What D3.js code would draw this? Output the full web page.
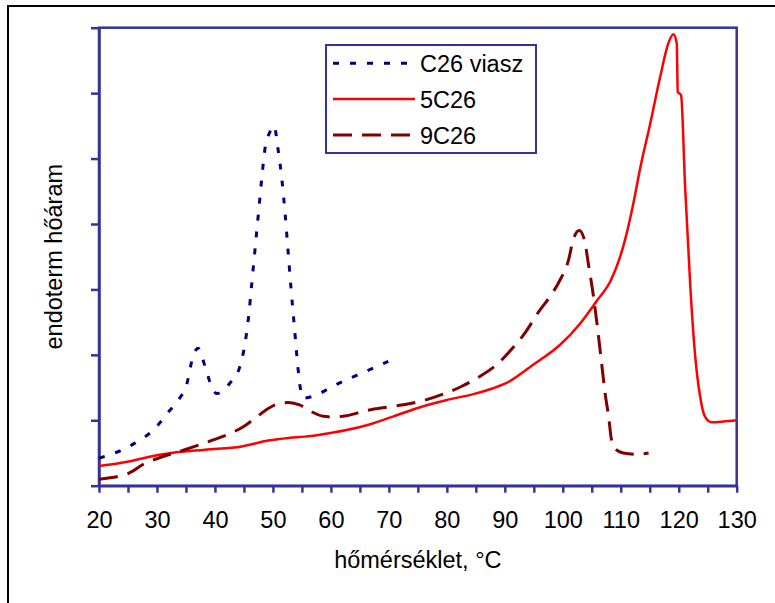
<!DOCTYPE html>
<html>
<head>
<meta charset="utf-8">
<script src="https://cdn.jsdelivr.net/npm/d3@7"></script>
<style>
  body { margin: 0; background: #fff; }
  text { font-family: "Liberation Sans", Arial, sans-serif; fill: #000; }
</style>
</head>
<body>
<svg id="chart" width="775" height="603"></svg>
<script>
// ---- Data (y in arbitrary units) ----
const xTicks = [20, 30, 40, 50, 60, 70, 80, 90, 100, 110, 120, 130];
const seriesNames = ["C26 viasz", "5C26", "9C26"];

const c26T = [20, 25.6, 29.7, 32.0, 33.7, 35.1, 36.3, 37.1, 38.3, 39.2, 40.3, 42.6, 44.3, 45.2, 45.8, 46.3, 46.9, 47.5, 48.1, 48.6, 49.5, 50.2, 50.9, 51.5, 52.1, 52.6, 53.1, 53.7, 54.3, 54.7, 55.2, 57.6, 60.1, 62.7, 65.3, 67.9, 69.9];
const c26V = [0.42, 0.62, 0.88, 1.13, 1.31, 1.54, 2.00, 2.10, 1.82, 1.57, 1.41, 1.57, 1.82, 2.18, 2.58, 3.04, 3.60, 4.16, 4.72, 5.13, 5.41, 5.50, 5.13, 4.72, 4.16, 3.60, 3.04, 2.43, 1.82, 1.51, 1.34, 1.39, 1.51, 1.62, 1.72, 1.82, 1.90];

const s5T = [20, 25.1, 28.5, 32.5, 38.3, 44.6, 49.2, 52.7, 55.5, 58.1, 62.7, 66.8, 70.8, 75.4, 80.0, 84.6, 88.0, 90.3, 94.9, 99.5, 103.0, 105.9, 108.3, 109.9, 111.3, 112.3, 113.3, 115.1, 116.8, 118.2, 119.07, 119.66, 119.83, 120.4, 121.1, 122.0, 122.8, 123.7, 124.5, 125.7, 127.7, 130];
const s5V = [0.30, 0.37, 0.44, 0.50, 0.55, 0.60, 0.69, 0.73, 0.75, 0.78, 0.85, 0.94, 1.06, 1.20, 1.31, 1.40, 1.49, 1.57, 1.85, 2.15, 2.48, 2.83, 3.14, 3.50, 3.96, 4.37, 4.83, 5.54, 6.25, 6.76, 6.90, 6.76, 6.02, 5.97, 4.57, 3.04, 2.02, 1.36, 1.06, 0.97, 0.98, 1.00];

const s9T = [20, 25.1, 27.9, 30.2, 34.8, 39.7, 42.9, 44.9, 46.9, 49.2, 50.9, 52.7, 54.7, 56.7, 58.7, 60.4, 62.7, 66.2, 69.6, 72.8, 75.9, 79.4, 82.6, 85.7, 88.6, 91.5, 93.2, 96.1, 97.8, 99.5, 101.0, 101.8, 102.85, 103.8, 104.4, 105.3, 106.1, 106.7, 107.3, 107.9, 108.4, 109.0, 110.4, 112.8, 114.8];
const s9V = [0.10, 0.19, 0.34, 0.42, 0.55, 0.70, 0.81, 0.90, 1.03, 1.18, 1.25, 1.27, 1.23, 1.13, 1.06, 1.05, 1.07, 1.15, 1.20, 1.24, 1.30, 1.40, 1.52, 1.67, 1.85, 2.12, 2.30, 2.69, 2.89, 3.14, 3.45, 3.76, 3.90, 3.73, 3.40, 2.89, 2.33, 1.87, 1.41, 1.06, 0.70, 0.57, 0.50, 0.48, 0.50];

// ---- Layout ----
const svg = d3.select("#chart");
const pLeft = 99, pRight = 736.7, pTop = 27.7, pBottom = 485.7;
const axisColor = "#333399";

const x = d3.scaleLinear().domain([20, 130]).range([pLeft, pRight]);
const y = d3.scaleLinear().domain([0, 7]).range([pBottom, pTop]);

// outer frame (only top and left edges visible)
svg.append("rect").attr("x", 8).attr("y", 6).attr("width", 900).attr("height", 800)
  .attr("fill", "none").attr("stroke", "#000").attr("stroke-width", 2);

// plot area border
svg.append("rect").attr("x", pLeft).attr("y", pTop)
  .attr("width", pRight - pLeft).attr("height", pBottom - pTop)
  .attr("fill", "#fff").attr("stroke", axisColor).attr("stroke-width", 2.5);

// x axis
const xAxis = d3.axisBottom(x).tickValues(d3.range(20, 131, 5))
  .tickSize(7).tickSizeOuter(0)
  .tickFormat(d => xTicks.includes(d) ? String(d) : "");
const gx = svg.append("g").attr("transform", `translate(0,${pBottom})`).call(xAxis);
gx.select(".domain").attr("stroke", axisColor).attr("stroke-width", 2.5);
gx.selectAll(".tick line").attr("stroke", axisColor).attr("stroke-width", 2.5);
gx.selectAll(".tick text").attr("y", 42).attr("dy", null)
  .attr("font-size", 23.5).attr("font-family", "Liberation Sans, Arial, sans-serif").attr("fill", "#000");

// y axis (no labels)
const yAxis = d3.axisLeft(y).tickValues(d3.range(0, 8, 1)).tickSize(8).tickSizeOuter(0).tickFormat("");
const gy = svg.append("g").attr("transform", `translate(${pLeft},0)`).call(yAxis);
gy.select(".domain").attr("stroke", axisColor).attr("stroke-width", 2.5);
gy.selectAll(".tick line").attr("stroke", axisColor).attr("stroke-width", 2.5);

// axis titles
svg.append("text").attr("x", (pLeft + pRight) / 2).attr("y", 568)
  .attr("text-anchor", "middle").attr("font-size", 23.5).text("hőmérséklet, °C");
svg.append("text").attr("transform", `translate(62,${(pTop + pBottom) / 2}) rotate(-90)`)
  .attr("text-anchor", "middle").attr("font-size", 23.5).text("endoterm hőáram");

// curves
const line = d3.line().x(d => x(d[0])).y(d => y(d[1])).curve(d3.curveMonotoneX);
const styles = [
  { color: "#000080", width: 3, dash: "6,11" },
  { color: "#ff0000", width: 2.5, dash: null },
  { color: "#800000", width: 3, dash: "19,10" }
];
const seriesData = [
  d3.zip(c26T, c26V),
  d3.zip(s5T, s5V),
  d3.zip(s9T, s9V)
];
seriesData.forEach((pts, i) => {
  svg.append("path").datum(pts).attr("d", line)
    .attr("fill", "none").attr("stroke", styles[i].color)
    .attr("stroke-width", styles[i].width)
    .attr("stroke-dasharray", styles[i].dash);
});

// legend
const lg = svg.append("g");
lg.append("rect").attr("x", 326).attr("y", 45).attr("width", 210).attr("height", 108)
  .attr("fill", "#fff").attr("stroke", axisColor).attr("stroke-width", 2);
const rowY = [63.3, 99, 135];
seriesNames.forEach((name, i) => {
  lg.append("line").attr("x1", 333).attr("x2", 415).attr("y1", rowY[i]).attr("y2", rowY[i])
    .attr("stroke", styles[i].color).attr("stroke-width", styles[i].width)
    .attr("stroke-dasharray", styles[i].dash);
  lg.append("text").attr("x", 420).attr("y", rowY[i] + 8.5)
    .attr("font-size", 23.5).text(name);
});
</script>
</body>
</html>
